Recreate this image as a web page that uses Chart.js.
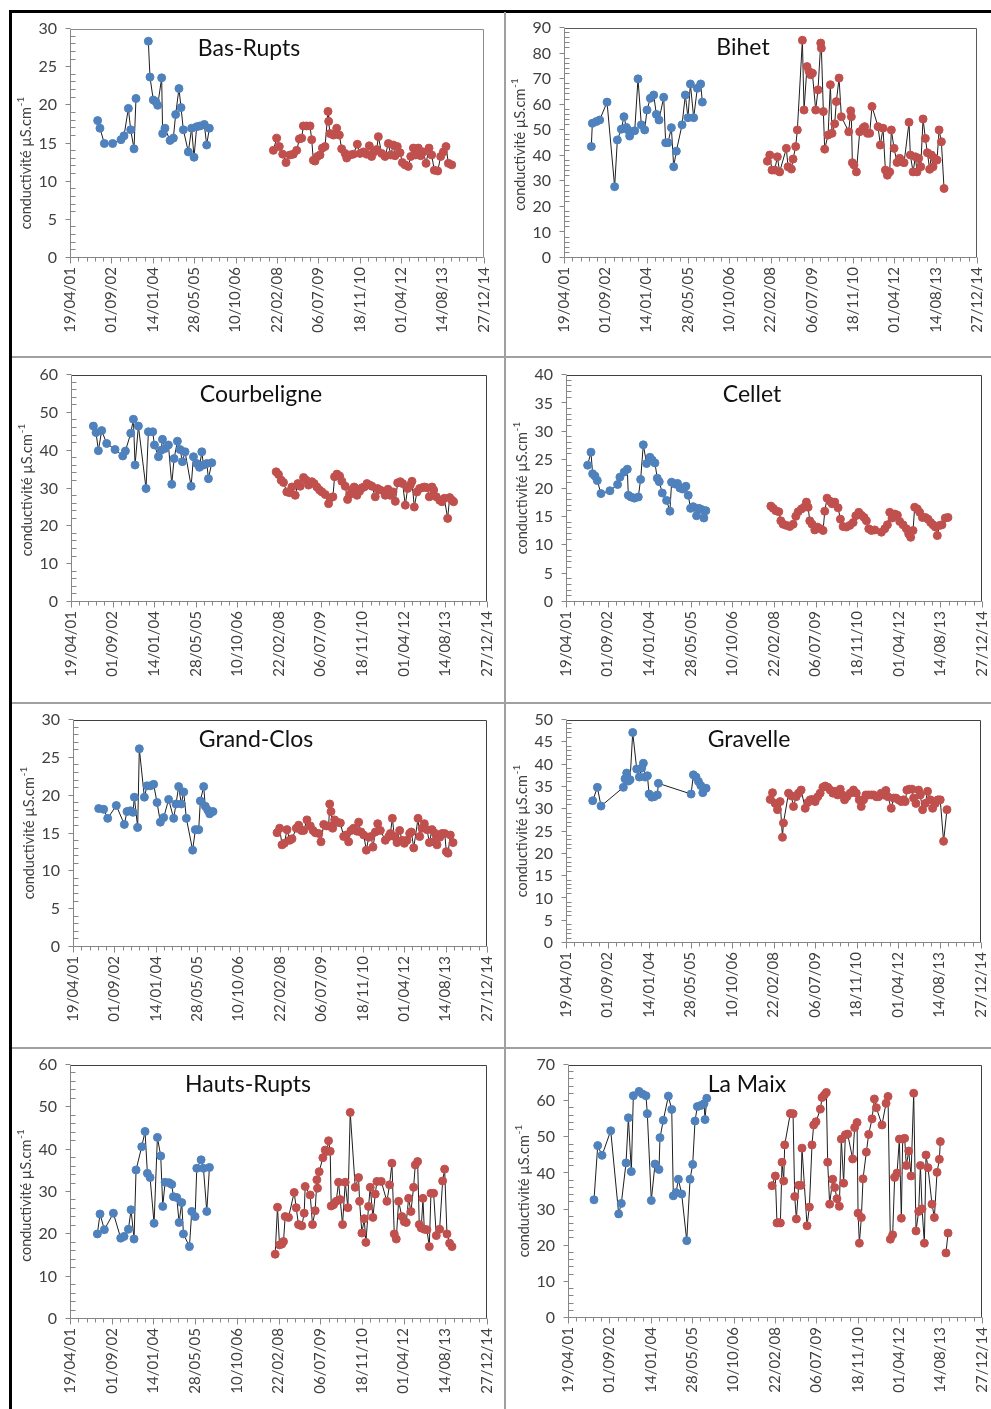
<!DOCTYPE html>
<html>
<head>
<meta charset="utf-8">
<script src="https://cdn.jsdelivr.net/npm/chart.js@4.4.0/dist/chart.umd.min.js"></script>
<style>
  body { margin: 0; background: #fff; width: 991px; height: 1409px; overflow: hidden; position: relative; }
  #frame { position: absolute; left: 9px; top: 10px; width: 1000px; height: 1420px; border: 3px solid #000; }
  .sep { position: absolute; background: #a0a0a0; }
  canvas { position: absolute; }
</style>
</head>
<body>
<div id="frame"></div>
<div class="sep" style="left:504px; top:12px; width:2px; height:1400px"></div>
<div class="sep" style="left:12px; top:356px; width:980px; height:2px"></div>
<div class="sep" style="left:12px; top:702px; width:980px; height:2px"></div>
<div class="sep" style="left:12px; top:1047px; width:980px; height:2px"></div>

<script>
// x values are Excel date serials (37000 = 19/04/01), y values in µS/cm

const xTickLabels = ['19/04/01', '01/09/02', '14/01/04', '28/05/05', '10/10/06', '22/02/08',
    '06/07/09', '18/11/10', '01/04/12', '14/08/13', '27/12/14'];
const xFirstTick = 37000;
const xTickStep = 500;

const stations = ['Bas-Rupts', 'Bihet', 'Courbeligne', 'Cellet', 'Grand-Clos', 'Gravelle', 'Hauts-Rupts', 'La Maix'];
const yMax = [30, 90, 60, 40, 30, 50, 60, 70];
const yStep = [5, 10, 10, 5, 5, 5, 10, 10];

// 2001-2005 campaign (blue) and 2008-2013 campaign (red)
const basRuptsEarly = [[37334,18.0],[37362,17.0],[37415,15.0],[37515,15.0],[37616,15.5],[37652,16.0],[37705,19.6],[37733,16.8],[37773,14.3],[37797,20.9],[37870,null],[37946,28.4],[37966,23.7],[38006,20.7],[38035,20.5],[38059,20.0],[38107,23.6],[38119,16.3],[38147,17.0],[38208,15.4],[38248,15.7],[38276,18.8],[38316,22.2],[38341,19.7],[38369,16.8],[38429,13.9],[38469,17.0],[38498,13.2],[38530,17.2],[38570,17.3],[38622,17.5],[38651,14.8],[38683,17.0]];
const basRuptsLate = [[39456,14.1],[39496,15.7],[39528,14.6],[39569,13.6],[39609,12.5],[39657,13.5],[39697,13.6],[39738,14.1],[39770,15.6],[39798,15.7],[39818,17.3],[39858,17.3],[39899,17.3],[39919,15.5],[39939,12.8],[39959,12.7],[39987,13.3],[40020,13.5],[40048,14.4],[40080,14.6],[40116,19.2],[40124,17.9],[40140,16.3],[40181,16.1],[40221,17.0],[40253,16.1],[40281,14.3],[40322,13.7],[40342,13.1],[40382,13.5],[40422,13.6],[40470,14.9],[40503,13.7],[40543,13.9],[40583,13.6],[40615,14.7],[40643,13.3],[40672,13.9],[40704,14.2],[40724,15.9],[40764,13.7],[40805,13.3],[40845,15.0],[40873,13.5],[40905,14.8],[40925,13.4],[40953,14.6],[40986,13.8],[41014,12.5],[41046,12.2],[41086,12.0],[41115,13.3],[41147,14.4],[41175,13.5],[41207,14.4],[41235,13.4],[41268,13.9],[41300,12.4],[41336,14.4],[41368,13.5],[41400,11.5],[41441,11.4],[41477,13.3],[41509,13.9],[41541,14.6],[41570,12.4],[41610,12.2]];

const bihetEarly = [[37331,43.6],[37343,52.7],[37391,53.4],[37432,54.0],[37521,61.0],[37613,27.9],[37646,46.2],[37694,50.4],[37726,55.3],[37755,51.1],[37775,50.1],[37795,47.7],[37856,49.8],[37896,70.1],[37936,52.1],[37977,50.1],[38005,57.9],[38045,62.5],[38086,63.8],[38118,56.2],[38150,54.0],[38207,62.9],[38231,45.1],[38259,45.1],[38300,51.0],[38328,35.7],[38360,41.8],[38429,52.1],[38469,63.8],[38501,54.9],[38530,68.1],[38570,54.9],[38614,66.4],[38655,68.1],[38675,61.0]];
const bihetLate = [[39462,37.9],[39491,40.3],[39518,34.4],[39551,34.4],[39583,39.6],[39611,33.7],[39692,42.9],[39712,35.7],[39753,34.8],[39773,38.7],[39805,43.6],[39825,50.1],[39886,85.2],[39906,57.9],[39942,74.9],[39966,73.0],[39987,71.7],[40007,72.3],[40047,57.9],[40075,65.8],[40108,84.1],[40116,82.1],[40140,57.3],[40156,42.6],[40197,48.1],[40225,67.8],[40245,48.8],[40277,52.5],[40297,61.2],[40330,70.4],[40358,55.3],[40447,49.4],[40471,57.6],[40479,55.3],[40491,37.3],[40511,36.4],[40540,33.7],[40580,49.4],[40620,50.8],[40640,51.4],[40673,48.8],[40701,48.8],[40729,59.3],[40802,51.4],[40830,44.2],[40862,50.8],[40891,34.4],[40915,32.4],[40943,33.7],[40963,50.1],[40996,42.9],[41032,37.4],[41064,39.0],[41084,37.7],[41117,37.3],[41177,53.1],[41193,40.3],[41226,33.7],[41254,39.6],[41274,33.7],[41294,39.0],[41319,35.7],[41347,54.4],[41375,46.8],[41399,41.2],[41427,34.7],[41448,40.3],[41468,35.7],[41488,39.0],[41516,38.3],[41541,50.1],[41569,45.5],[41601,27.2]];

const courbeligneEarly = [[37269,46.5],[37301,44.8],[37329,40.0],[37369,45.3],[37429,41.9],[37529,40.3],[37622,38.6],[37654,39.9],[37718,44.6],[37750,48.3],[37770,36.2],[37810,46.5],[37902,30.0],[37930,45.0],[37982,45.0],[38003,41.5],[38051,38.4],[38083,40.1],[38099,43.0],[38131,40.6],[38171,41.5],[38211,31.1],[38239,37.9],[38279,42.5],[38311,40.3],[38339,37.1],[38371,39.7],[38444,30.6],[38472,38.4],[38512,36.6],[38544,35.6],[38572,39.7],[38592,36.2],[38632,36.6],[38652,32.6],[38692,36.8]];
const courbeligneLate = [[39466,34.4],[39494,33.7],[39526,32.2],[39554,31.6],[39594,29.1],[39627,28.9],[39655,30.4],[39695,28.2],[39727,31.3],[39755,30.6],[39795,32.9],[39827,32.2],[39855,30.9],[39895,31.8],[39923,31.3],[39955,30.4],[39987,29.6],[40016,29.1],[40056,28.4],[40096,26.0],[40116,27.5],[40148,27.8],[40168,33.1],[40196,33.8],[40228,33.3],[40256,31.9],[40296,30.6],[40324,27.1],[40348,28.4],[40376,29.6],[40404,30.4],[40437,28.2],[40469,29.3],[40497,30.2],[40525,30.4],[40557,31.3],[40589,30.9],[40617,30.6],[40657,27.8],[40685,30.0],[40717,29.6],[40777,28.2],[40810,29.8],[40838,28.2],[40870,29.1],[40898,26.6],[40926,31.5],[40958,31.8],[40986,31.3],[41018,25.6],[41046,30.0],[41078,30.9],[41098,31.9],[41126,25.1],[41158,29.1],[41190,30.0],[41219,30.2],[41247,30.4],[41279,30.2],[41307,27.8],[41339,30.4],[41359,29.6],[41391,27.8],[41431,26.9],[41459,26.5],[41487,27.4],[41527,22.1],[41551,27.6],[41579,26.9],[41599,26.5]];

const celletEarly = [[37260,24.1],[37300,26.4],[37320,22.6],[37348,22.2],[37376,21.4],[37420,19.1],[37528,19.6],[37620,20.7],[37648,22.0],[37700,22.9],[37737,23.4],[37749,18.8],[37781,18.5],[37821,18.3],[37869,18.5],[37897,21.6],[37929,27.7],[37969,24.4],[38009,25.5],[38037,25.0],[38069,24.5],[38097,21.8],[38121,21.2],[38157,19.2],[38209,17.9],[38249,16.0],[38269,21.1],[38309,20.8],[38341,20.9],[38369,20.1],[38401,19.9],[38441,20.4],[38469,18.8],[38497,16.5],[38529,16.8],[38569,15.2],[38597,16.5],[38629,16.3],[38657,14.8],[38681,16.1]];
const celletLate = [[39462,16.9],[39490,16.5],[39522,16.1],[39558,15.9],[39582,14.3],[39610,13.7],[39650,13.5],[39690,13.3],[39730,13.7],[39762,15.1],[39790,15.9],[39830,16.4],[39862,16.7],[39890,17.6],[39910,16.7],[39930,14.3],[39958,13.7],[39990,12.7],[40022,13.2],[40062,12.9],[40090,12.6],[40110,16.0],[40138,18.3],[40170,17.8],[40198,17.3],[40230,17.6],[40270,16.6],[40298,14.6],[40330,13.3],[40370,13.2],[40411,13.5],[40451,14.0],[40483,15.2],[40519,15.8],[40551,15.3],[40583,14.9],[40611,14.3],[40639,12.9],[40671,12.6],[40711,12.7],[40791,12.3],[40831,12.9],[40863,13.6],[40891,15.8],[40919,14.8],[40951,15.5],[40983,15.3],[41011,14.2],[41051,13.6],[41091,12.9],[41119,12.0],[41143,11.4],[41171,12.6],[41191,16.7],[41223,16.4],[41251,15.8],[41283,14.9],[41319,14.9],[41351,14.6],[41383,14.0],[41411,13.6],[41439,13.2],[41463,11.7],[41491,13.5],[41519,13.6],[41559,14.8],[41591,14.9]];

const grandClosEarly = [[37310,18.3],[37370,18.2],[37419,17.0],[37523,18.7],[37620,16.2],[37652,17.9],[37692,18.0],[37725,17.8],[37741,19.8],[37781,15.8],[37801,26.2],[37862,19.8],[37894,21.3],[37934,21.3],[37974,21.5],[38015,19.1],[38055,16.5],[38095,17.1],[38155,19.5],[38216,17.0],[38244,18.9],[38276,21.2],[38308,18.9],[38337,20.5],[38369,17.0],[38445,12.8],[38478,15.5],[38518,15.5],[38538,19.3],[38578,21.2],[38598,18.6],[38627,18.1],[38651,17.6],[38691,17.9]];
const grandClosLate = [[39464,15.1],[39496,15.7],[39524,13.5],[39552,13.7],[39585,15.5],[39617,14.1],[39645,14.3],[39697,15.7],[39726,16.1],[39758,15.4],[39786,15.4],[39826,16.8],[39866,16.0],[39899,15.4],[39927,15.1],[39967,15.0],[39995,13.9],[40028,16.2],[40060,16.0],[40088,16.0],[40100,18.9],[40116,17.9],[40136,15.7],[40160,16.8],[40189,16.5],[40229,16.4],[40269,14.6],[40297,14.8],[40329,13.9],[40358,15.4],[40390,15.7],[40430,15.3],[40450,16.5],[40478,15.2],[40511,14.8],[40543,12.8],[40571,14.5],[40599,14.6],[40623,13.2],[40652,15.2],[40680,16.3],[40712,15.4],[40772,14.1],[40813,14.6],[40833,15.0],[40857,17.0],[40881,14.6],[40913,13.8],[40945,15.4],[40974,14.1],[41002,13.7],[41034,14.1],[41066,15.0],[41086,15.2],[41115,13.1],[41167,17.0],[41187,14.6],[41215,15.7],[41243,16.3],[41276,15.5],[41304,13.8],[41336,15.5],[41356,13.9],[41376,15.0],[41396,13.5],[41429,14.5],[41457,15.0],[41489,15.0],[41509,12.6],[41529,12.4],[41557,14.8],[41590,13.8]];

const gravelleEarly = [[37322,31.9],[37378,34.9],[37422,30.7],[37691,34.9],[37711,36.8],[37731,38.1],[37752,36.3],[37772,36.6],[37804,47.2],[37852,39.0],[37884,37.2],[37912,39.2],[37932,40.3],[37953,37.2],[37981,37.5],[38001,33.4],[38033,32.7],[38061,32.8],[38101,33.2],[38113,35.8],[38507,33.4],[38535,37.7],[38567,37.2],[38596,36.2],[38624,35.3],[38648,33.7],[38688,34.7]];
const gravelleLate = [[39460,32.2],[39488,33.7],[39520,31.3],[39548,29.9],[39580,31.7],[39608,23.7],[39620,26.9],[39681,33.6],[39713,33.0],[39741,30.6],[39773,32.8],[39801,33.6],[39833,34.3],[39882,30.2],[39914,31.5],[39942,32.1],[39970,32.2],[40002,31.7],[40034,32.8],[40062,33.6],[40095,34.9],[40123,35.2],[40155,34.9],[40183,34.3],[40215,33.6],[40243,34.0],[40272,33.2],[40304,34.5],[40332,33.2],[40356,32.1],[40384,32.8],[40424,33.6],[40464,34.3],[40497,33.6],[40533,32.1],[40557,30.6],[40585,32.1],[40613,33.2],[40645,33.2],[40677,33.2],[40706,33.2],[40738,32.8],[40766,32.8],[40798,33.6],[40826,33.2],[40854,34.2],[40878,32.8],[40919,30.2],[40947,32.5],[40975,32.5],[41007,32.1],[41039,31.7],[41067,32.1],[41087,31.7],[41107,34.3],[41136,34.5],[41168,34.5],[41188,32.5],[41216,31.3],[41248,34.3],[41268,33.2],[41296,29.9],[41328,31.3],[41356,34.0],[41389,32.1],[41417,30.2],[41449,31.3],[41481,32.1],[41509,32.1],[41549,22.8],[41590,29.9]];

const hautsRuptsEarly = [[37328,20.1],[37360,24.8],[37412,21.1],[37520,25.0],[37608,19.1],[37648,19.5],[37700,21.2],[37732,25.8],[37768,18.9],[37792,35.2],[37860,40.7],[37900,44.3],[37928,34.4],[37960,33.4],[38008,22.6],[38048,42.9],[38088,38.5],[38112,26.6],[38140,32.3],[38188,32.2],[38220,31.8],[38240,28.9],[38280,28.7],[38308,22.8],[38340,27.5],[38360,20.1],[38432,17.1],[38460,25.4],[38500,24.2],[38520,35.6],[38572,37.6],[38600,35.6],[38640,25.4],[38672,35.8]];
const hautsRuptsLate = [[39460,15.3],[39488,26.4],[39512,17.5],[39540,17.7],[39560,18.3],[39580,24.2],[39620,24.0],[39688,29.9],[39712,26.3],[39740,22.3],[39780,22.0],[39808,25.0],[39820,31.3],[39880,29.3],[39908,22.3],[39940,25.6],[39960,32.9],[39968,30.9],[39988,34.8],[40032,38.1],[40060,39.9],[40080,39.6],[40100,42.1],[40120,39.6],[40132,26.7],[40160,27.0],[40192,27.8],[40220,32.3],[40240,28.2],[40268,22.3],[40300,32.3],[40332,26.3],[40360,48.8],[40420,31.1],[40460,33.4],[40472,27.8],[40500,20.3],[40528,23.7],[40548,18.1],[40580,26.6],[40600,31.1],[40632,24.0],[40660,29.5],[40680,32.5],[40732,32.5],[40800,27.8],[40832,31.7],[40860,36.8],[40888,20.1],[40912,18.9],[40940,27.8],[40980,24.2],[41008,23.0],[41032,22.8],[41060,28.5],[41088,25.4],[41120,31.1],[41140,36.4],[41168,37.2],[41188,22.3],[41212,21.5],[41232,28.5],[41248,21.2],[41280,21.1],[41308,17.1],[41328,29.7],[41360,29.7],[41392,19.7],[41432,21.2],[41468,32.6],[41492,35.4],[41520,20.1],[41552,17.9],[41580,17.1]];

const laMaixEarly = [[37314,32.7],[37359,47.7],[37411,45.0],[37516,51.8],[37612,28.8],[37644,31.7],[37701,42.9],[37729,55.4],[37765,40.5],[37789,61.5],[37858,62.7],[37898,62.0],[37942,61.5],[37958,56.5],[38006,32.5],[38051,42.6],[38099,41.1],[38111,49.9],[38151,54.7],[38212,61.4],[38253,57.7],[38272,33.8],[38305,34.7],[38333,38.4],[38373,34.3],[38434,21.4],[38474,38.4],[38506,42.5],[38534,54.5],[38562,58.5],[38603,58.8],[38643,59.3],[38655,54.9],[38676,60.8]];
const laMaixLate = [[39464,36.6],[39504,39.3],[39524,26.3],[39544,26.4],[39565,26.3],[39585,43.1],[39605,37.9],[39617,47.9],[39685,56.6],[39718,56.5],[39738,33.6],[39758,27.4],[39786,36.7],[39814,36.7],[39826,47.0],[39887,25.5],[39915,30.7],[39947,47.9],[39967,53.4],[39995,54.3],[40048,57.8],[40068,61.0],[40096,61.7],[40120,62.4],[40136,43.1],[40160,31.5],[40197,38.4],[40221,36.1],[40249,33.0],[40277,30.9],[40301,49.5],[40329,37.3],[40350,50.7],[40378,50.9],[40438,44.0],[40462,52.7],[40491,54.1],[40503,29.0],[40519,20.7],[40543,27.8],[40563,38.5],[40603,45.9],[40631,50.8],[40672,55.1],[40700,60.6],[40724,58.2],[40792,53.4],[40841,59.4],[40865,61.3],[40893,21.8],[40921,23.0],[40945,38.9],[40974,40.1],[41002,49.5],[41026,27.6],[41042,49.5],[41066,49.7],[41086,42.2],[41115,46.2],[41143,39.3],[41175,62.2],[41203,24.1],[41235,29.5],[41256,42.2],[41276,30.2],[41304,20.7],[41324,45.1],[41348,41.6],[41396,31.5],[41425,27.8],[41457,40.3],[41485,43.9],[41497,48.8],[41530,null],[41565,18.0],[41590,23.5]];

const earlySeries = [basRuptsEarly, bihetEarly, courbeligneEarly, celletEarly, grandClosEarly, gravelleEarly, hautsRuptsEarly, laMaixEarly];
const lateSeries = [basRuptsLate, bihetLate, courbeligneLate, celletLate, grandClosLate, gravelleLate, hautsRuptsLate, laMaixLate];

// page layout: canvas box [x, y, w, h] and wanted plot area [left, top, right, bottom]
const panels = [
    { box: [12, 13, 492, 343],   area: [70, 29, 484, 258],     titleDx: 179, yTitleShift: 20, frame: '#8c8c8c' },
    { box: [507, 13, 484, 343],  area: [564, 28, 977, 258],    titleDx: 179, yTitleShift: 2,  frame: '#595959' },
    { box: [12, 358, 492, 345],  area: [71, 375, 487, 602],    titleDx: 190, yTitleShift: 2,  frame: '#404040' },
    { box: [507, 358, 484, 345], area: [566, 375, 982, 602],   titleDx: 186, yTitleShift: 0,  frame: '#404040' },
    { box: [12, 705, 492, 342],  area: [73, 720, 487, 947],    titleDx: 183, yTitleShift: 0,  frame: '#404040' },
    { box: [507, 705, 484, 342], area: [566, 720, 981, 943],   titleDx: 183, yTitleShift: 0,  frame: '#404040' },
    { box: [12, 1050, 492, 359], area: [70, 1065, 487, 1319],  titleDx: 178, yTitleShift: 4,  frame: '#404040' },
    { box: [507, 1050, 484, 359],area: [568, 1065, 982, 1318], titleDx: 179, yTitleShift: 0,  frame: '#404040' }
];

const Y_W = 50;   // forced width of y axis box
const X_H = 90;   // forced height of x axis box
const FONT = 'Lato, "Open Sans", sans-serif';
const BLUE = '#4f81bd';
const RED = '#c0504d';
const AXIS = '#868686';
const TEXT = '#404040';

// Excel style axis: frame, major ticks outside, minor y ticks inside, titles
const excelAxes = {
    id: 'excelAxes',
    beforeDatasetsDraw(chart, args, o) {
        const { ctx, chartArea: a, scales: { x, y } } = chart;
        const L = Math.round(a.left) + 0.5, R = Math.round(a.right) - 0.5;
        const T = Math.round(a.top) + 0.5, B = Math.round(a.bottom) - 0.5;
        ctx.save();
        ctx.lineWidth = 1;
        ctx.strokeStyle = o.frame;
        ctx.beginPath();
        ctx.moveTo(L, T); ctx.lineTo(R, T); ctx.lineTo(R, B);
        ctx.stroke();

        ctx.strokeStyle = AXIS;
        ctx.beginPath();
        ctx.moveTo(L, T); ctx.lineTo(L, B); ctx.lineTo(R, B);
        const step = y.options.ticks.stepSize;
        for (let k = 0; k * step / 5 <= y.max + 1e-9; k++) {
            const py = Math.round(y.getPixelForValue(k * step / 5)) - 0.5;
            if (k % 5 === 0) { ctx.moveTo(L - 5, py); ctx.lineTo(L, py); }
            else { ctx.moveTo(L, py); ctx.lineTo(L + 5, py); }
        }
        for (let v = x.min; v <= x.max; v += 100) {
            const px = Math.round(x.getPixelForValue(v)) + 0.5;
            ctx.moveTo(px, B); ctx.lineTo(px, B + (v % 500 === 0 ? 6 : 4));
        }
        ctx.stroke();
        ctx.restore();
    },
    afterDraw(chart, args, o) {
        const { ctx, chartArea: a } = chart;
        ctx.save();
        // station name inside the plot
        ctx.fillStyle = '#111';
        ctx.font = '23px ' + FONT;
        ctx.textAlign = 'center';
        ctx.textBaseline = 'alphabetic';
        ctx.fillText(o.title, a.left + o.titleDx, a.top + 26.5);

        // rotated y axis title with superscript
        const main = 'conductivité µS.cm', sup = '-1';
        ctx.translate(a.left - 44, (a.top + a.bottom) / 2 + o.yTitleShift);
        ctx.rotate(-Math.PI / 2);
        ctx.fillStyle = TEXT;
        ctx.font = '14.5px ' + FONT;
        const w1 = ctx.measureText(main).width;
        ctx.font = '10px ' + FONT;
        const w2 = ctx.measureText(sup).width;
        ctx.textAlign = 'left';
        ctx.textBaseline = 'middle';
        ctx.font = '14.5px ' + FONT;
        ctx.fillText(main, -(w1 + w2) / 2, 0);
        ctx.font = '10px ' + FONT;
        ctx.fillText(sup, -(w1 + w2) / 2 + w1 + 1, -5);
        ctx.restore();
    }
};

function toXY(pairs) {
    return pairs.map(p => ({ x: p[0], y: p[1] }));
}

function seriesStyle(color) {
    return {
        borderColor: '#1e1e1e',
        borderWidth: 1,
        pointRadius: 4,
        pointBorderWidth: 1,
        pointBackgroundColor: color,
        pointBorderColor: color,
        tension: 0,
        spanGaps: false
    };
}

function drawPanel(i) {
    const p = panels[i];
    const cv = document.createElement('canvas');
    cv.width = p.box[2];
    cv.height = p.box[3];
    cv.style.left = p.box[0] + 'px';
    cv.style.top = p.box[1] + 'px';
    document.body.appendChild(cv);

    new Chart(cv, {
        type: 'line',
        data: {
            datasets: [
                Object.assign({ data: toXY(earlySeries[i]) }, seriesStyle(BLUE)),
                Object.assign({ data: toXY(lateSeries[i]) }, seriesStyle(RED))
            ]
        },
        options: {
            responsive: false,
            animation: false,
            layout: {
                padding: {
                    left: p.area[0] - p.box[0] - Y_W,
                    top: p.area[1] - p.box[1],
                    right: p.box[0] + p.box[2] - p.area[2],
                    bottom: p.box[1] + p.box[3] - p.area[3] - X_H
                }
            },
            plugins: {
                legend: { display: false },
                tooltip: { enabled: false },
                excelAxes: { title: stations[i], titleDx: p.titleDx, yTitleShift: p.yTitleShift, frame: p.frame }
            },
            scales: {
                x: {
                    type: 'linear',
                    min: xFirstTick,
                    max: xFirstTick + xTickStep * (xTickLabels.length - 1),
                    grid: { display: false, drawTicks: false },
                    border: { display: false },
                    afterBuildTicks: s => {
                        s.ticks = xTickLabels.map((_, k) => ({ value: xFirstTick + k * xTickStep }));
                    },
                    afterFit: s => { s.height = X_H; s.paddingLeft = 0; s.paddingRight = 0; },
                    ticks: {
                        autoSkip: false,
                        minRotation: 90,
                        maxRotation: 90,
                        padding: 9,
                        color: TEXT,
                        font: { family: FONT, size: 15 },
                        callback: (v, k) => xTickLabels[k]
                    }
                },
                y: {
                    min: 0,
                    max: yMax[i],
                    grid: { display: false, drawTicks: false },
                    border: { display: false },
                    afterFit: s => { s.width = Y_W; s.paddingTop = 0; s.paddingBottom = 0; },
                    ticks: {
                        stepSize: yStep[i],
                        padding: 13,
                        color: TEXT,
                        font: { family: FONT, size: 16 }
                    }
                }
            }
        },
        plugins: [excelAxes]
    });
}

document.fonts.load('15px Lato').then(() => {
    for (let i = 0; i < panels.length; i++) drawPanel(i);
});
</script>
</body>
</html>
